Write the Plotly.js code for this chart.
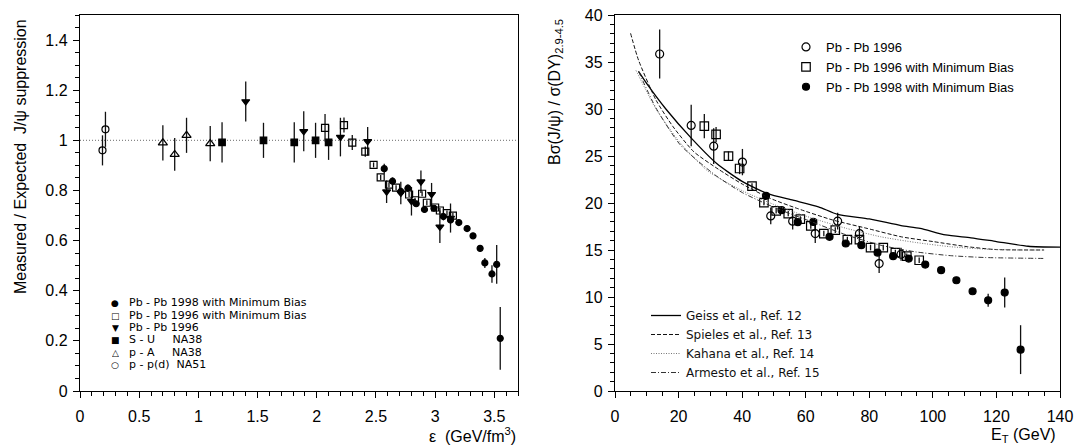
<!DOCTYPE html>
<html>
<head>
<meta charset="utf-8">
<script src="https://cdn.plot.ly/plotly-3.0.1.min.js"></script>
<style>html,body{margin:0;padding:0;background:#fff;}#chart{width:1075px;height:445px;}</style>
</head>
<body>
<div id="chart"></div>
<script>
// ---------- Left panel data: Measured / Expected J/psi suppression vs energy density ----------
const ppNA51_x = [0.19, 0.215];
const ppNA51_y = [0.96, 1.044];
const ppNA51_e = [0.06, 0.07];

const pANA38_x = [0.70, 0.80, 0.90, 1.10];
const pANA38_y = [0.99, 0.944, 1.02, 0.987];
const pANA38_e = [0.07, 0.065, 0.07, 0.07];

const SUNA38_x = [1.20, 1.55, 1.81, 1.99, 2.10];
const SUNA38_y = [0.992, 1.0, 0.992, 1.0, 0.992];
const SUNA38_e = [0.08, 0.07, 0.08, 0.07, 0.07];

const PbPb96_x = [1.40, 1.89, 2.20, 2.43, 2.59, 2.71, 2.80, 2.88, 2.97, 3.04, 3.13];
const PbPb96_y = [1.155, 1.036, 1.013, 0.996, 0.795, 0.79, 0.757, 0.835, 0.785, 0.655, 0.69];
const PbPb96_e = [0.08, 0.08, 0.077, 0.057, 0.045, 0.045, 0.057, 0.045, 0.045, 0.065, 0.058];

const PbPb96MB_x = [2.07, 2.23, 2.30, 2.41, 2.48, 2.54, 2.61, 2.67, 2.78, 2.83, 2.89, 2.93, 3.00, 3.04, 3.10, 3.15];
const PbPb96MB_y = [1.05, 1.061, 0.991, 0.955, 0.902, 0.852, 0.823, 0.811, 0.784, 0.761, 0.787, 0.751, 0.732, 0.72, 0.71, 0.70];
const PbPb96MB_e = [0.055, 0.03, 0.03, 0.02, 0.01, 0.01, 0.01, 0.01, 0.01, 0.01, 0.01, 0.01, 0.01, 0.01, 0.01, 0.01];

const PbPb98MB_x = [2.57, 2.64, 2.71, 2.77, 2.84, 2.91, 2.99, 3.07, 3.13, 3.20, 3.27, 3.32, 3.38, 3.42, 3.48, 3.52, 3.55];
const PbPb98MB_y = [0.887, 0.837, 0.796, 0.809, 0.747, 0.724, 0.729, 0.696, 0.682, 0.672, 0.648, 0.619, 0.569, 0.511, 0.467, 0.505, 0.21];
const PbPb98MB_e = [0.02, 0.015, 0.015, 0.015, 0.01, 0.01, 0.01, 0.015, 0.01, 0.01, 0.01, 0.01, 0.012, 0.02, 0.035, 0.077, 0.125];

const referenceLevel = 1;

const leftLegendSymbols = ['●', '□', '▼', '■', '△', '○'];
const leftLegendLabels = ['Pb - Pb 1998 with Minimum Bias', 'Pb - Pb 1996 with Minimum Bias', 'Pb - Pb 1996',
  'S - U&nbsp;&nbsp;&nbsp;&nbsp;&nbsp;NA38', 'p - A&nbsp;&nbsp;&nbsp;&nbsp;&nbsp;NA38', 'p - p(d)&nbsp;&nbsp;NA51'];

// ---------- Right panel data: B sigma(J/psi)/sigma(DY) vs E_T ----------
const r96_x = [14.05, 23.97, 31.05, 40.09, 49.0, 55.9, 63.0, 70.05, 76.9, 83.1, 90.0];
const r96_y = [35.85, 28.25, 26.05, 24.35, 18.63, 18.07, 16.75, 18.07, 16.75, 13.56, 14.55];
const r96_e = [2.6, 2.2, 1.9, 1.4, 0.9, 0.9, 1.0, 0.9, 0.8, 1.0, 0.7];

const r96MB_x = [28.1, 31.8, 35.7, 39.2, 43.1, 46.85, 50.7, 54.5, 58.3, 61.6, 65.7, 69.3, 73.1, 76.9, 80.4, 84.4, 88.2, 91.8, 95.7];
const r96MB_y = [28.18, 27.29, 24.99, 23.67, 21.79, 20.05, 19.17, 18.88, 18.28, 17.57, 16.75, 17.11, 16.11, 16.11, 15.26, 15.26, 14.73, 14.34, 13.91];
const r96MB_e = [1.3, 0.8, 0.5, 0.6, 0.3, 0.3, 0.3, 0.3, 0.3, 0.3, 0.3, 0.3, 0.3, 0.3, 0.3, 0.3, 0.3, 0.3, 0.3];

const r98MB_x = [47.5, 52.4, 57.5, 62.4, 67.5, 72.6, 77.5, 82.6, 87.5, 92.4, 97.6, 102.6, 107.4, 112.5, 117.4, 122.6, 127.6];
const r98MB_y = [20.76, 19.24, 17.96, 17.99, 16.40, 15.69, 15.51, 14.73, 14.34, 14.09, 13.45, 12.85, 11.78, 10.61, 9.65, 10.47, 4.40];
const r98MB_e = [0.3, 0.3, 0.3, 0.3, 0.3, 0.3, 0.3, 0.3, 0.3, 0.3, 0.3, 0.3, 0.3, 0.3, 0.7, 1.6, 2.6];

const geiss_x = [7.4, 10, 16, 24, 32, 40, 48, 56, 64, 70, 80, 90, 96, 104, 112, 120, 130, 140];
const geiss_y = [34.0, 32.7, 30.0, 26.9, 24.2, 22.3, 21.0, 20.3, 19.6, 18.8, 18.3, 17.6, 17.3, 16.6, 16.3, 15.9, 15.4, 15.3];

const spieles_x = [4.9, 7.4, 12.9, 18.3, 24.8, 32.5, 40.1, 48.8, 57.5, 68.4, 79.3, 90.1, 100, 110.9, 119.6, 135];
const spieles_y = [38.05, 35.2, 30.95, 28.1, 25.45, 23.6, 22.0, 20.5, 19.4, 18.2, 17.3, 16.4, 15.9, 15.35, 15.05, 15.0];

const kahana_x = [6.6, 12.9, 20.5, 29.2, 40.1, 51, 61.9, 72.8, 83.7, 94.6, 105.5, 116.3, 127.3, 135];
const kahana_y = [34.1, 30.0, 26.4, 23.4, 21.3, 19.7, 18.4, 17.3, 16.4, 15.8, 15.35, 15.1, 15.0, 15.0];

const armesto_x = [7.4, 12.9, 20.5, 31.4, 40.1, 51, 61.9, 72.8, 83.7, 94.6, 105.5, 116.3, 135];
const armesto_y = [34.0, 30.1, 26.2, 23.0, 21.1, 19.4, 18.0, 16.6, 15.5, 14.8, 14.4, 14.2, 14.1];

// ---------- helpers ----------
function pts(x, y, e, symbol, size, xa, ya, name, legend, show) {
  return {
    type: 'scatter', mode: 'markers', x: x, y: y, name: name,
    xaxis: xa, yaxis: ya, showlegend: !!show, legend: legend || 'legend',
    marker: {symbol: symbol, size: size, color: '#000', line: {color: '#000', width: 1.2}},
    error_y: {type: 'data', array: e, visible: true, color: '#111', thickness: 1.3, width: 0},
    hoverinfo: 'x+y'
  };
}
function curve(x, y, dash, color, width, name) {
  return {
    type: 'scatter', mode: 'lines', x: x, y: y, name: name, xaxis: 'x2', yaxis: 'y2',
    legend: 'legend2', showlegend: true,
    line: {color: color, width: width, dash: dash, shape: 'spline', smoothing: 0.6}
  };
}

const traces = [
  pts(ppNA51_x, ppNA51_y, ppNA51_e, 'circle-open', 7, 'x', 'y', 'p - p(d)  NA51'),
  pts(pANA38_x, pANA38_y, pANA38_e, 'triangle-up-open', 8, 'x', 'y', 'p - A  NA38'),
  pts(SUNA38_x, SUNA38_y, SUNA38_e, 'square', 6.5, 'x', 'y', 'S - U  NA38'),
  pts(PbPb96_x, PbPb96_y, PbPb96_e, 'triangle-down', 7, 'x', 'y', 'Pb - Pb 1996'),
  pts(PbPb96MB_x, PbPb96MB_y, PbPb96MB_e, 'square-open', 7, 'x', 'y', 'Pb - Pb 1996 with Minimum Bias'),
  pts(PbPb98MB_x, PbPb98MB_y, PbPb98MB_e, 'circle', 6, 'x', 'y', 'Pb - Pb 1998 with Minimum Bias'),

  pts(r96_x, r96_y, r96_e, 'circle-open', 8, 'x2', 'y2', 'Pb - Pb 1996', 'legend', true),
  pts(r96MB_x, r96MB_y, r96MB_e, 'square-open', 8.5, 'x2', 'y2', 'Pb - Pb 1996 with Minimum Bias', 'legend', true),
  pts(r98MB_x, r98MB_y, r98MB_e, 'circle', 7, 'x2', 'y2', 'Pb - Pb 1998 with Minimum Bias', 'legend', true),

  curve(geiss_x, geiss_y, 'solid', '#000', 1.3, 'Geiss et al., Ref. 12'),
  curve(spieles_x, spieles_y, '4px,2px', '#111', 1.0, 'Spieles et al., Ref. 13'),
  curve(kahana_x, kahana_y, '1px,1.5px', '#777', 1.0, 'Kahana et al., Ref. 14'),
  curve(armesto_x, armesto_y, '5px,2px,1px,2px', '#333', 1.0, 'Armesto et al., Ref. 15')
];

const W = 1075, H = 445;
const px = v => v / W, py = v => 1 - v / H;

function axisBase(extra) {
  return Object.assign({
    showline: true, linecolor: '#000', linewidth: 1.2, mirror: true,
    ticks: 'outside', ticklen: 6, tickwidth: 1, tickcolor: '#000',
    showgrid: false, zeroline: false, fixedrange: true,
    tickfont: {family: 'Liberation Sans, Arial, sans-serif', size: 16, color: '#000'}
  }, extra);
}

const annotations = [];
leftLegendSymbols.forEach((s, i) => {
  const yy = 302.7 + i * 12.35;
  annotations.push({xref: 'paper', yref: 'paper', x: px(115), y: py(yy), text: s, showarrow: false,
    xanchor: 'center', yanchor: 'middle', height: 11, borderpad: 0,
    font: {family: 'DejaVu Sans', size: 9, color: '#000'}});
  annotations.push({xref: 'paper', yref: 'paper', x: px(128), y: py(yy), text: leftLegendLabels[i], showarrow: false,
    xanchor: 'left', yanchor: 'middle', height: 11, borderpad: 0,
    font: {family: 'DejaVu Sans', size: 11, color: '#000'}});
});
annotations.push(
  {xref: 'paper', yref: 'paper', x: px(518), y: py(435), xanchor: 'right', yanchor: 'middle', showarrow: false,
   text: 'ε&nbsp;&nbsp;(GeV/fm<sup>3</sup>)', font: {family: 'Liberation Sans, Arial', size: 16, color: '#000'}},
  {xref: 'paper', yref: 'paper', x: px(1058), y: py(435), xanchor: 'right', yanchor: 'middle', showarrow: false,
   text: 'E<sub>T</sub> (GeV)', font: {family: 'Liberation Sans, Arial', size: 16, color: '#000'}},
  {xref: 'paper', yref: 'paper', x: px(21), y: py(157), xanchor: 'center', yanchor: 'middle', showarrow: false,
   textangle: -90, text: 'Measured / Expected&nbsp;&nbsp;J/ψ suppression',
   font: {family: 'Liberation Sans, Arial', size: 16, color: '#000'}},
  {xref: 'paper', yref: 'paper', x: px(555), y: py(92), xanchor: 'center', yanchor: 'middle', showarrow: false,
   textangle: -90, text: 'Bσ(J/ψ) / σ(DY)<sub>2.9-4.5</sub>',
   font: {family: 'Liberation Sans, Arial', size: 16, color: '#000'}}
);

const layout = {
  width: W, height: H, margin: {l: 0, r: 0, t: 0, b: 0},
  paper_bgcolor: '#fff', plot_bgcolor: '#fff',
  font: {family: 'Liberation Sans, Arial, sans-serif', color: '#000'},
  xaxis: axisBase({domain: [px(80), px(518)], range: [0, 3.7], anchor: 'y', tick0: 0, dtick: 0.5,
    ticklabelstandoff: 5, minor: {dtick: 0.1, ticks: 'outside', ticklen: 3.5, tickcolor: '#000', showgrid: false}}),
  yaxis: axisBase({domain: [1 - 391 / H, 1 - 15 / H], range: [0, 1.5], anchor: 'x', tick0: 0, dtick: 0.2,
    ticklabelstandoff: 2, minor: {dtick: 0.05, ticks: 'outside', ticklen: 3.5, tickcolor: '#000', showgrid: false}}),
  xaxis2: axisBase({domain: [px(615), px(1060)], range: [0, 140], anchor: 'y2', tick0: 0, dtick: 20,
    ticklabelstandoff: 5, minor: {dtick: 5, ticks: 'outside', ticklen: 3.5, tickcolor: '#000', showgrid: false}}),
  yaxis2: axisBase({domain: [1 - 391 / H, 1 - 15 / H], range: [0, 40], anchor: 'x2', tick0: 0, dtick: 5,
    ticklabelstandoff: 2, minor: {dtick: 1, ticks: 'outside', ticklen: 3.5, tickcolor: '#000', showgrid: false}}),
  shapes: [
    {type: 'line', xref: 'x domain', yref: 'y', x0: 0, x1: 1, y0: referenceLevel, y1: referenceLevel,
     line: {color: '#888', width: 1.2, dash: '1px,2px'}, layer: 'below'}
  ],
  legend: {x: px(786), y: py(32), xanchor: 'left', yanchor: 'top', bgcolor: 'rgba(0,0,0,0)',
    font: {family: 'Liberation Sans, Arial', size: 13, color: '#000'}, traceorder: 'normal', tracegroupgap: 0},
  legend2: {x: px(646), y: py(301), xanchor: 'left', yanchor: 'top', bgcolor: 'rgba(0,0,0,0)',
    font: {family: 'DejaVu Sans', size: 12, color: '#111'}, traceorder: 'normal', tracegroupgap: 0},
  annotations: annotations,
  showlegend: true
};

Plotly.newPlot('chart', traces, layout, {displayModeBar: false, staticPlot: true});
</script>
</body>
</html>
